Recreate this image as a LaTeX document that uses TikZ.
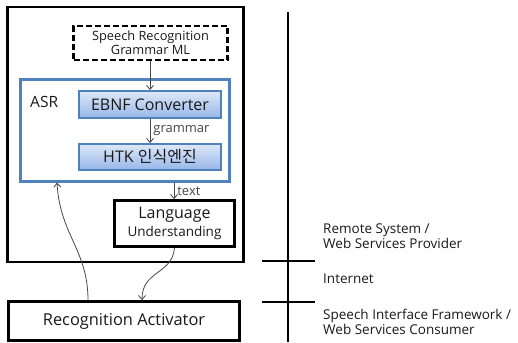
\documentclass[tikz,border=0pt]{standalone}
\usepackage{fontspec}
\setmainfont{Open Sans}
\newfontfamily\kofont{Noto Sans CJK KR}
\usetikzlibrary{arrows.meta, positioning, calc}

\definecolor{asrblue}{RGB}{79,129,189}
\definecolor{modtop}{RGB}{222,232,248}
\definecolor{modbot}{RGB}{150,182,232}
\definecolor{wire}{RGB}{70,70,70}
\definecolor{ink}{RGB}{25,25,25}

\newcommand{\fs}[1]{\fontsize{#1}{#1}\selectfont}

\begin{document}
\begin{tikzpicture}[
    x=1pt, y=-1pt,
    text=ink,
    box/.style={draw, line width=2.8pt, align=center, inner sep=0pt},
    module/.style={draw=asrblue, line width=2pt, top color=modtop, bottom color=modbot,
                   minimum width=142pt, inner sep=0pt, font=\fs{16}},
    arr/.style={-{Straight Barb[length=4pt,width=7pt]}, wire, line width=0.8pt},
    lbl/.style={font=\fs{13}, inner sep=0pt},
    side/.style={anchor=west, align=left, font=\fs{13.5}, inner sep=0pt}
]
\useasboundingbox (0,0) rectangle (518,342);
% Remote system
\node[box, minimum width=236pt, minimum height=255pt] (remote) at (125.5,134.5) {};
\node[box, dash pattern=on 6pt off 3pt, line width=2.4pt, minimum width=154pt, minimum height=34pt, font=\fs{12.8}]
    (srgml) at (150.5,43) {Speech Recognition\\[1pt]Grammar ML};
% ASR
\node[draw=asrblue, line width=2.2pt, minimum width=209pt, minimum height=102pt] (asr) at (125,130.5) {};
\node[anchor=west, font=\fs{15.5}, inner sep=0pt] (asrlbl) at (30,102) {ASR};
\node[module, minimum height=27pt] (ebnf) at (150,104.5) {EBNF Converter};
\node[module, minimum height=26pt] (htk) at (150,157) {HTK {\kofont 인식엔진}};
% Language understanding
\node[box, minimum width=120pt, minimum height=46pt]
    (lu) at (174.5,223.5) {{\fs{16}Language}\\[3pt]{\fs{13.5}Understanding}};
% Client
\node[box, minimum width=231pt, minimum height=39pt, font=\fs{16.4}]
    (activator) at (124,321) {Recognition Activator};

\draw[arr] (srgml.south -| ebnf.north) -- (ebnf.north);
\draw[arr] (ebnf) -- node[lbl, right=3pt] {grammar} (htk);
\draw[arr] (asr.south -| 174,0) -- node[lbl, right=3pt] {text} (lu.north -| 174,0);
\draw[arr] (lu.south) .. controls (172,275) and (142,270) .. (activator.north -| 142,0);
\draw[arr] (activator.north -| 88,0) .. controls (88,250) and (60,235) .. (asr.south -| 57,0);

% Layers
\coordinate (top) at (288,12);
\coordinate (bot) at (288,342);
\draw[line width=2.8pt] (top) -- (bot);
\draw[line width=2.8pt] (262,261) coordinate (t1) -- (315,261);
\draw[line width=2.8pt] (262,302) coordinate (t2) -- (315,302);
\node[side] (provider) at (323,236) {Remote System /\\[2pt]Web Services Provider};
\node[side] (net) at (323,279) {Internet};
\node[side] (consumer) at (323,322) {Speech Interface Framework /\\[2pt]Web Services Consumer};
\end{tikzpicture}
\end{document}
